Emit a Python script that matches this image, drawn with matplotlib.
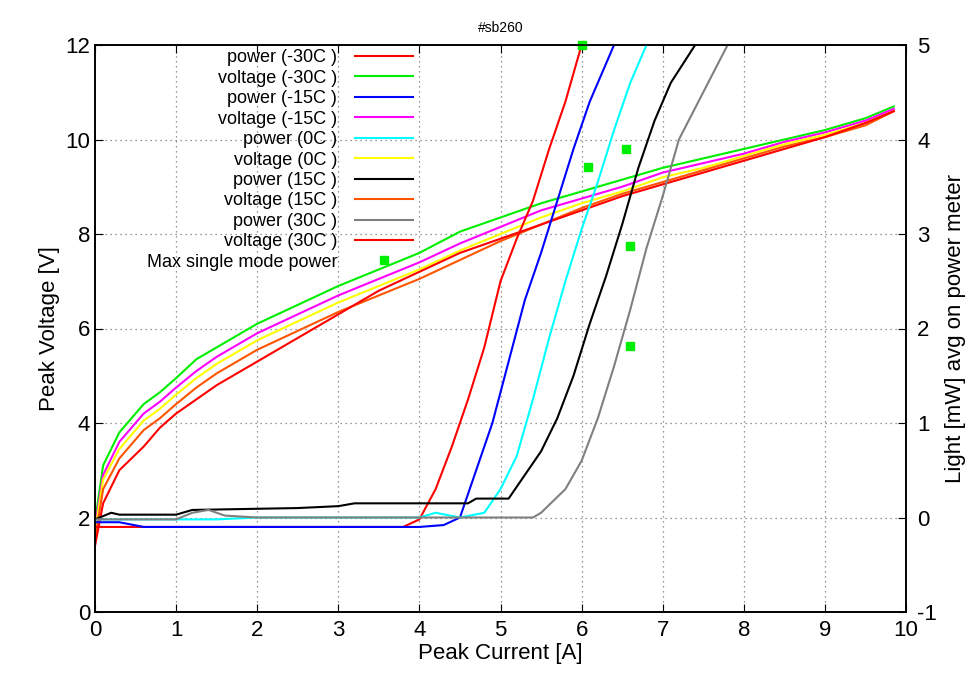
import matplotlib.pyplot as plt
from matplotlib.ticker import MultipleLocator

plt.rcParams['font.family'] = ['Liberation Sans', 'DejaVu Sans']
plt.rcParams['axes.unicode_minus'] = False

# ---- voltage curves (left axis, V) ----
v_x = [0, 0.1, 0.3, 0.6, 0.8, 1, 1.25, 1.5, 1.75, 2, 2.5, 3, 3.5, 4, 4.5, 5, 5.5, 6, 6.5, 7, 7.5, 8, 8.5, 9, 9.5, 9.85]
v_m30 = [1.9, 3.1, 3.8, 4.4, 4.65, 4.95, 5.35, 5.6, 5.85, 6.1, 6.5, 6.9, 7.25, 7.6, 8.05, 8.35, 8.65, 8.9, 9.15, 9.4, 9.6, 9.8, 10.0, 10.2, 10.45, 10.7]
v_m15 = [1.8, 2.9, 3.6, 4.2, 4.45, 4.75, 5.1, 5.4, 5.65, 5.9, 6.3, 6.7, 7.05, 7.4, 7.8, 8.15, 8.5, 8.75, 9.0, 9.3, 9.5, 9.7, 9.95, 10.15, 10.4, 10.65]
v_0 = [1.7, 2.8, 3.45, 4.05, 4.3, 4.6, 4.95, 5.25, 5.5, 5.75, 6.15, 6.55, 6.9, 7.25, 7.65, 8.0, 8.35, 8.65, 8.9, 9.2, 9.4, 9.65, 9.9, 10.1, 10.35, 10.6]
v_15 = [1.55, 2.6, 3.25, 3.85, 4.1, 4.4, 4.75, 5.05, 5.3, 5.55, 5.95, 6.35, 6.7, 7.05, 7.45, 7.85, 8.2, 8.55, 8.85, 9.1, 9.35, 9.6, 9.85, 10.05, 10.3, 10.6]
v_30 = [1.4, 2.3, 3.0, 3.5, 3.9, 4.2, 4.5, 4.8, 5.05, 5.3, 5.8, 6.3, 6.8, 7.2, 7.6, 7.9, 8.2, 8.5, 8.8, 9.05, 9.3, 9.55, 9.8, 10.05, 10.35, 10.6]

# ---- power curves (right axis, mW) ----
p_m30_x = [0, 0.1, 3.8, 4.0, 4.2, 4.4, 4.6, 4.8, 5.0, 5.2, 5.4, 5.6, 5.8, 6.0]
p_m30 = [-0.1, -0.1, -0.1, -0.02, 0.3, 0.75, 1.25, 1.8, 2.5, 2.95, 3.35, 3.9, 4.4, 5.0]
p_m15_x = [0, 0.3, 0.6, 4.0, 4.3, 4.5, 4.7, 4.9, 5.1, 5.3, 5.5, 5.7, 5.9, 6.1, 6.4]
p_m15 = [-0.05, -0.05, -0.1, -0.1, -0.08, 0.0, 0.5, 1.0, 1.65, 2.3, 2.8, 3.35, 3.9, 4.4, 5.0]
p_0_x = [0, 1.0, 1.5, 2.0, 2.5, 3.0, 3.5, 4.0, 4.2, 4.5, 4.8, 5.0, 5.2, 5.4, 5.6, 5.8, 6.0, 6.2, 6.4, 6.6, 6.8]
p_0 = [-0.02, -0.02, -0.02, 0.0, 0.0, 0.0, 0.0, 0.0, 0.05, 0.0, 0.05, 0.3, 0.65, 1.25, 1.9, 2.5, 3.05, 3.55, 4.1, 4.6, 5.0]
p_15_x = [0, 0.2, 0.3, 0.6, 1.0, 1.2, 2.5, 3.0, 3.2, 4.6, 4.7, 5.1, 5.3, 5.5, 5.7, 5.9, 6.1, 6.3, 6.5, 6.7, 6.9, 7.1, 7.4]
p_15 = [-0.02, 0.05, 0.03, 0.03, 0.03, 0.08, 0.1, 0.12, 0.15, 0.15, 0.2, 0.2, 0.45, 0.7, 1.05, 1.5, 2.05, 2.55, 3.1, 3.7, 4.2, 4.6, 5.0]
p_30_x = [0, 1.0, 1.2, 1.4, 1.6, 2.0, 5.4, 5.5, 5.8, 6.0, 6.2, 6.4, 6.6, 6.8, 7.0, 7.2, 7.5, 7.8]
p_30 = [-0.02, -0.02, 0.05, 0.08, 0.02, 0.0, 0.0, 0.05, 0.3, 0.6, 1.05, 1.6, 2.2, 2.85, 3.4, 4.0, 4.5, 5.0]

# max single mode power points (mW)
ms_x = [6.0, 6.08, 6.55, 6.6, 6.6]
ms_y = [5.0, 3.71, 3.9, 2.87, 1.81]

fig = plt.figure(figsize=(9.75, 6.75), dpi=100)
ax = fig.add_axes([95 / 975, 1 - 612 / 675, (906 - 95) / 975, (612 - 45) / 675])
ax2 = ax.twinx()

# grid drawn on the left axes
for gx in range(1, 10):
    ax.axvline(gx, color='#777777', ls=(0, (1, 3)), lw=0.9, zorder=0)
for gy in range(2, 12, 2):
    ax.axhline(gy, color='#777777', ls=(0, (1, 3)), lw=0.9, zorder=0)

lw = 1.5
lines = [
    (ax2, p_m30_x, p_m30, '#ff0000', 'power (-30C )'),
    (ax, v_x, v_m30, '#00ee00', 'voltage (-30C )'),
    (ax2, p_m15_x, p_m15, '#0000ff', 'power (-15C )'),
    (ax, v_x, v_m15, '#ff00ff', 'voltage (-15C )'),
    (ax2, p_0_x, p_0, '#00ffff', 'power (0C )'),
    (ax, v_x, v_0, '#ffff00', 'voltage (0C )'),
    (ax2, p_15_x, p_15, '#000000', 'power (15C )'),
    (ax, v_x, v_15, '#ff5500', 'voltage (15C )'),
    (ax2, p_30_x, p_30, '#808080', 'power (30C )'),
    (ax, v_x, v_30, '#ff0000', 'voltage (30C )'),
]
handles = []
for a, xs, ys, c, lab in lines:
    h, = a.plot(xs, ys, color=c, lw=lw, label=lab)
    handles.append(h)
h, = ax2.plot(ms_x, ms_y, 's', color='#00ee00', ms=6, ls='none', label='Max single mode power', clip_on=False)
handles.append(h)

ax.set_xlim(0, 10)
ax.set_ylim(0, 12)
ax2.set_ylim(-1, 5)
ax.xaxis.set_major_locator(MultipleLocator(1))
ax.yaxis.set_major_locator(MultipleLocator(2))
ax2.yaxis.set_major_locator(MultipleLocator(1))
ax.tick_params(direction='in', labelsize=16, top=True, length=6)
ax.tick_params(axis='x', pad=6)
ax2.tick_params(direction='in', labelsize=16, length=6, pad=8)
ax.set_xlabel('Peak Current [A]', fontsize=16, labelpad=1)
ax.set_ylabel('Peak Voltage [V]', fontsize=16)
ax2.set_ylabel('Light [mW] avg on power meter', fontsize=16, labelpad=6)
ax.set_title('#sb260', fontsize=10, pad=9)
for a in (ax, ax2):
    for s in a.spines.values():
        s.set_linewidth(1.2)

leg = ax2.legend(handles=handles, loc='upper left', bbox_to_anchor=(0.055, 1.005),
                 frameon=False, markerfirst=False, fontsize=13, handlelength=3.2,
                 labelspacing=0.19, borderaxespad=0, handletextpad=1.0)
for t in leg.get_texts():
    t.set_ha('right')

fig.savefig('out.png', dpi=100)
